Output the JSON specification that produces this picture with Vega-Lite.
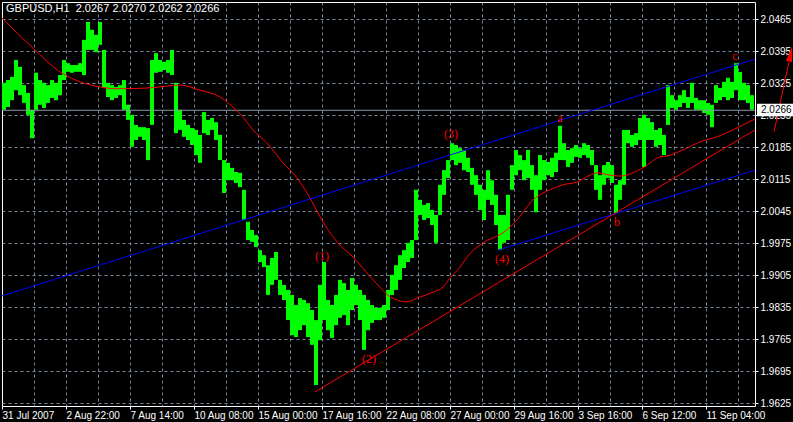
{
"$schema": "https://vega.github.io/schema/vega-lite/v6.json",
"width": 753, "height": 404,
"autosize": {"type": "none"},
"padding": {"left": 2, "top": 2, "right": 38, "bottom": 16},
"background": "#000000",
"config": {
"view": {"stroke": "#ffffff", "strokeWidth": 1, "fill": "#000000"},
"axis": {"labelOverlap": false, "labelFlush": false, "labelBound": false, "labelColor": "#ffffff", "labelFont": "Liberation Sans", "labelFontSize": 10, "tickColor": "#ffffff", "tickSize": 3, "gridColor": "#778899", "gridDash": [3, 3], "domain": false, "title": null},
"axisY": {"labelOverlap": false, "labelPadding": 2},
"axisX": {"labelOverlap": false, "labelPadding": 1}
},
"datasets": {
"bars": [
{"x":4,"h":2.0326,"l":2.0267},{"x":8,"h":2.0332,"l":2.0273},{"x":12,"h":2.0339,"l":2.0288},{"x":16,"h":2.0376,"l":2.0310},{"x":20,"h":2.0361,"l":2.0299},{"x":24,"h":2.0321,"l":2.0282},{"x":28,"h":2.0304,"l":2.0256},{"x":32,"h":2.0267,"l":2.0205},{"x":36,"h":2.0348,"l":2.0267},{"x":40,"h":2.0332,"l":2.0278},{"x":44,"h":2.0326,"l":2.0271},{"x":48,"h":2.0321,"l":2.0282},{"x":52,"h":2.0332,"l":2.0293},{"x":56,"h":2.0326,"l":2.0288},{"x":60,"h":2.0343,"l":2.0299},{"x":64,"h":2.0376,"l":2.0332},{"x":68,"h":2.0369,"l":2.0350},{"x":72,"h":2.0365,"l":2.0348},{"x":76,"h":2.0365,"l":2.0350},{"x":80,"h":2.0369,"l":2.0350},{"x":84,"h":2.0420,"l":2.0343},{"x":88,"h":2.0459,"l":2.0398},{"x":92,"h":2.0442,"l":2.0398},{"x":96,"h":2.0431,"l":2.0393},{"x":100,"h":2.0459,"l":2.0409},{"x":104,"h":2.0398,"l":2.0315},{"x":108,"h":2.0326,"l":2.0295},{"x":112,"h":2.0321,"l":2.0288},{"x":116,"h":2.0317,"l":2.0293},{"x":120,"h":2.0321,"l":2.0299},{"x":124,"h":2.0332,"l":2.0267},{"x":128,"h":2.0278,"l":2.0245},{"x":132,"h":2.0256,"l":2.0186},{"x":136,"h":2.0234,"l":2.0201},{"x":140,"h":2.0229,"l":2.0208},{"x":144,"h":2.0229,"l":2.0201},{"x":148,"h":2.0227,"l":2.0157},{"x":152,"h":2.0376,"l":2.0234},{"x":156,"h":2.0391,"l":2.0348},{"x":160,"h":2.0376,"l":2.0350},{"x":164,"h":2.0372,"l":2.0354},{"x":168,"h":2.0376,"l":2.0348},{"x":172,"h":2.0398,"l":2.0343},{"x":176,"h":2.0326,"l":2.0216},{"x":180,"h":2.0267,"l":2.0223},{"x":184,"h":2.0245,"l":2.0208},{"x":188,"h":2.0234,"l":2.0201},{"x":192,"h":2.0227,"l":2.0190},{"x":196,"h":2.0223,"l":2.0168},{"x":200,"h":2.0212,"l":2.0151},{"x":204,"h":2.0262,"l":2.0216},{"x":208,"h":2.0245,"l":2.0212},{"x":212,"h":2.0249,"l":2.0223},{"x":216,"h":2.0240,"l":2.0201},{"x":220,"h":2.0212,"l":2.0157},{"x":224,"h":2.0157,"l":2.0085},{"x":228,"h":2.0151,"l":2.0113},{"x":232,"h":2.0140,"l":2.0113},{"x":236,"h":2.0131,"l":2.0107},{"x":240,"h":2.0129,"l":2.0098},{"x":244,"h":2.0092,"l":2.0026},{"x":248,"h":2.0022,"l":1.9982},{"x":252,"h":2.0004,"l":1.9978},{"x":256,"h":1.9993,"l":1.9967},{"x":260,"h":1.9960,"l":1.9934},{"x":264,"h":1.9949,"l":1.9923},{"x":268,"h":1.9927,"l":1.9862},{"x":272,"h":1.9943,"l":1.9884},{"x":276,"h":1.9956,"l":1.9895},{"x":280,"h":1.9895,"l":1.9862},{"x":284,"h":1.9884,"l":1.9851},{"x":288,"h":1.9873,"l":1.9807},{"x":292,"h":1.9862,"l":1.9774},{"x":296,"h":1.9840,"l":1.9770},{"x":300,"h":1.9855,"l":1.9785},{"x":304,"h":1.9851,"l":1.9796},{"x":308,"h":1.9844,"l":1.9770},{"x":312,"h":1.9829,"l":1.9753},{"x":316,"h":1.9807,"l":1.9665},{"x":320,"h":1.9884,"l":1.9763},{"x":324,"h":1.9934,"l":1.9807},{"x":328,"h":1.9851,"l":1.9785},{"x":332,"h":1.9840,"l":1.9768},{"x":336,"h":1.9862,"l":1.9796},{"x":340,"h":1.9895,"l":1.9812},{"x":344,"h":1.9888,"l":1.9818},{"x":348,"h":1.9873,"l":1.9796},{"x":352,"h":1.9899,"l":1.9829},{"x":356,"h":1.9884,"l":1.9840},{"x":360,"h":1.9873,"l":1.9807},{"x":364,"h":1.9862,"l":1.9742},{"x":368,"h":1.9851,"l":1.9785},{"x":372,"h":1.9840,"l":1.9801},{"x":376,"h":1.9834,"l":1.9807},{"x":380,"h":1.9834,"l":1.9807},{"x":384,"h":1.9840,"l":1.9812},{"x":388,"h":1.9873,"l":1.9829},{"x":392,"h":1.9906,"l":1.9862},{"x":396,"h":1.9927,"l":1.9873},{"x":400,"h":1.9949,"l":1.9895},{"x":404,"h":1.9960,"l":1.9921},{"x":408,"h":1.9976,"l":1.9934},{"x":412,"h":1.9982,"l":1.9943},{"x":416,"h":2.0092,"l":1.9982},{"x":420,"h":2.0070,"l":2.0037},{"x":424,"h":2.0059,"l":2.0026},{"x":428,"h":2.0063,"l":2.0030},{"x":432,"h":2.0048,"l":2.0015},{"x":436,"h":2.0037,"l":1.9976},{"x":440,"h":2.0103,"l":2.0037},{"x":444,"h":2.0135,"l":2.0081},{"x":448,"h":2.0157,"l":2.0118},{"x":452,"h":2.0194,"l":2.0157},{"x":456,"h":2.0190,"l":2.0146},{"x":460,"h":2.0183,"l":2.0151},{"x":464,"h":2.0179,"l":2.0135},{"x":468,"h":2.0162,"l":2.0131},{"x":472,"h":2.0140,"l":2.0103},{"x":476,"h":2.0124,"l":2.0081},{"x":480,"h":2.0103,"l":2.0048},{"x":484,"h":2.0092,"l":2.0026},{"x":488,"h":2.0135,"l":2.0070},{"x":492,"h":2.0113,"l":2.0059},{"x":496,"h":2.0081,"l":2.0015},{"x":500,"h":2.0037,"l":1.9960},{"x":504,"h":2.0037,"l":1.9976},{"x":508,"h":2.0081,"l":1.9982},{"x":512,"h":2.0146,"l":2.0092},{"x":516,"h":2.0179,"l":2.0124},{"x":520,"h":2.0168,"l":2.0135},{"x":524,"h":2.0157,"l":2.0113},{"x":528,"h":2.0179,"l":2.0118},{"x":532,"h":2.0146,"l":2.0092},{"x":536,"h":2.0124,"l":2.0043},{"x":540,"h":2.0168,"l":2.0092},{"x":544,"h":2.0157,"l":2.0113},{"x":548,"h":2.0153,"l":2.0124},{"x":552,"h":2.0162,"l":2.0120},{"x":556,"h":2.0173,"l":2.0131},{"x":560,"h":2.0232,"l":2.0157},{"x":564,"h":2.0194,"l":2.0157},{"x":568,"h":2.0179,"l":2.0142},{"x":572,"h":2.0183,"l":2.0151},{"x":576,"h":2.0190,"l":2.0164},{"x":580,"h":2.0183,"l":2.0162},{"x":584,"h":2.0194,"l":2.0168},{"x":588,"h":2.0190,"l":2.0162},{"x":592,"h":2.0179,"l":2.0146},{"x":596,"h":2.0146,"l":2.0092},{"x":600,"h":2.0124,"l":2.0070},{"x":604,"h":2.0146,"l":2.0103},{"x":608,"h":2.0153,"l":2.0118},{"x":612,"h":2.0146,"l":2.0107},{"x":616,"h":2.0103,"l":2.0041},{"x":620,"h":2.0113,"l":2.0070},{"x":624,"h":2.0223,"l":2.0103},{"x":628,"h":2.0223,"l":2.0194},{"x":632,"h":2.0212,"l":2.0186},{"x":636,"h":2.0216,"l":2.0190},{"x":640,"h":2.0249,"l":2.0201},{"x":644,"h":2.0256,"l":2.0142},{"x":648,"h":2.0249,"l":2.0201},{"x":652,"h":2.0240,"l":2.0201},{"x":656,"h":2.0223,"l":2.0186},{"x":660,"h":2.0227,"l":2.0190},{"x":664,"h":2.0212,"l":2.0168},{"x":668,"h":2.0321,"l":2.0234},{"x":672,"h":2.0299,"l":2.0271},{"x":676,"h":2.0288,"l":2.0267},{"x":680,"h":2.0299,"l":2.0273},{"x":684,"h":2.0310,"l":2.0282},{"x":688,"h":2.0295,"l":2.0271},{"x":692,"h":2.0326,"l":2.0282},{"x":696,"h":2.0293,"l":2.0267},{"x":700,"h":2.0288,"l":2.0267},{"x":704,"h":2.0288,"l":2.0260},{"x":708,"h":2.0282,"l":2.0256},{"x":712,"h":2.0278,"l":2.0229},{"x":716,"h":2.0321,"l":2.0282},{"x":720,"h":2.0315,"l":2.0288},{"x":724,"h":2.0328,"l":2.0295},{"x":728,"h":2.0337,"l":2.0288},{"x":732,"h":2.0328,"l":2.0293},{"x":736,"h":2.0369,"l":2.0310},{"x":740,"h":2.0350,"l":2.0288},{"x":744,"h":2.0326,"l":2.0288},{"x":748,"h":2.0321,"l":2.0282},{"x":752,"h":2.0299,"l":2.0267}
],
"ma": [
{"x":2,"p":2.0468},{"x":33,"p":2.0402},{"x":60,"p":2.0350},{"x":83,"p":2.0326},{"x":100,"p":2.0317},{"x":117,"p":2.0313},{"x":150,"p":2.0315},{"x":180,"p":2.0321},{"x":200,"p":2.0310},{"x":220,"p":2.0295},{"x":233,"p":2.0273},{"x":243,"p":2.0251},{"x":253,"p":2.0223},{"x":267,"p":2.0194},{"x":283,"p":2.0151},{"x":297,"p":2.0118},{"x":310,"p":2.0074},{"x":320,"p":2.0033},{"x":337,"p":1.9978},{"x":353,"p":1.9945},{"x":367,"p":1.9910},{"x":380,"p":1.9879},{"x":390,"p":1.9858},{"x":407,"p":1.9847},{"x":417,"p":1.9855},{"x":433,"p":1.9868},{"x":443,"p":1.9879},{"x":450,"p":1.9899},{"x":460,"p":1.9923},{"x":467,"p":1.9945},{"x":483,"p":1.9976},{"x":503,"p":1.9998},{"x":517,"p":2.0026},{"x":533,"p":2.0070},{"x":550,"p":2.0092},{"x":563,"p":2.0103},{"x":577,"p":2.0109},{"x":590,"p":2.0124},{"x":597,"p":2.0129},{"x":610,"p":2.0124},{"x":620,"p":2.0122},{"x":643,"p":2.0140},{"x":660,"p":2.0164},{"x":667,"p":2.0166},{"x":683,"p":2.0179},{"x":700,"p":2.0197},{"x":717,"p":2.0208},{"x":733,"p":2.0223},{"x":755,"p":2.0247}
],
"lines": [
{"s":"upper channel","x":2,"p":1.9860},{"s":"upper channel","x":755,"p":2.0378},
{"s":"lower channel","x":498,"p":1.9960},{"s":"lower channel","x":755,"p":2.0135},
{"s":"trend","x":315,"p":1.9650},{"s":"trend","x":755,"p":2.0223}
],
"labels": [
{"t":"(1)","x":322,"p":1.9947},{"t":"(2)","x":369,"p":1.9722},{"t":"(3)","x":451,"p":2.0214},{"t":"(4)","x":502,"p":1.9941},{"t":"a","x":560,"p":2.0249},{"t":"b","x":617,"p":2.0022},{"t":"c","x":735,"p":2.0385}
],
"heading": [{"t":"GBPUSD,H1\u00a0 2.0267 2.0270 2.0262 2.0266","x":6,"p":2.0480}],
"arrow": [{"x":774,"x2":789,"p":2.0219,"p2":2.0372}],
"head": [{"x":790.5,"p":2.0389}],
"box": [{"x":757,"x2":793,"p":2.0280,"p2":2.0253,"t":"2.0266","tx":761,"tp":2.0266}],
"bid": [{"p":2.0266}]
},
"layer": [
{
"data": {"name": "bars"},
"mark": {"type": "rule", "color": "#00ff00", "strokeWidth": 4},
"encoding": {
"x": {"field": "x", "type": "quantitative", "title": null, "scale": {"domain": [2, 755], "nice": false, "zero": false},
"axis": {"values": [2,34,66,98,130,162,194,226,258,290,322,354,386,418,450,482,514,546,578,610,642,674,706,738], "tickCount": 40,
"labelExpr": "(datum.value-2)%64==0 ? ['31 Jul 2007','2 Aug 22:00','7 Aug 14:00','10 Aug 08:00','15 Aug 00:00','17 Aug 16:00','22 Aug 08:00','27 Aug 00:00','29 Aug 16:00','3 Sep 16:00','6 Sep 12:00','11 Sep 04:00'][(datum.value-2)/64] : ''",
"labelAlign": "left", "labelBaseline": "top", "labelPadding": 1, "labelOverlap": false,
"tickOpacity": {"condition": {"test": "(datum.value-2)%64==0", "value": 1}, "value": 0},
"grid": true, "gridOpacity": {"condition": {"test": "datum.value==2", "value": 0}, "value": 1}}},
"y": {"field": "h", "type": "quantitative", "title": null, "scale": {"domain": [1.96191, 2.05028], "nice": false, "zero": false},
"axis": {"orient": "right", "values": [1.9625,1.9695,1.9765,1.9835,1.9905,1.9975,2.0045,2.0115,2.0185,2.0255,2.0325,2.0395,2.0465], "tickCount": 20, "format": ".4f", "labelOverlap": false, "labelPadding": 2, "grid": true}},
"y2": {"field": "l"}
}
},
{
"data": {"name": "bid"},
"mark": {"type": "rule", "color": "#8899aa", "strokeWidth": 1},
"encoding": {"y": {"field": "p", "type": "quantitative", "title": null}}
},
{
"data": {"name": "ma"},
"mark": {"type": "line", "color": "#ff0000", "strokeWidth": 1, "interpolate": "monotone"},
"encoding": {
"x": {"field": "x", "type": "quantitative", "title": null},
"y": {"field": "p", "type": "quantitative", "title": null}
}
},
{
"data": {"name": "lines"},
"mark": {"type": "line", "strokeWidth": 1},
"encoding": {
"x": {"field": "x", "type": "quantitative", "title": null},
"y": {"field": "p", "type": "quantitative", "title": null},
"color": {"field": "s", "type": "nominal", "scale": {"domain": ["upper channel", "lower channel", "trend"], "range": ["#0000ff", "#0000ff", "#ff0000"]}, "legend": null}
}
},
{
"data": {"name": "labels"},
"mark": {"type": "text", "color": "#ff0000", "font": "Liberation Serif", "fontSize": 12, "align": "center", "baseline": "middle"},
"encoding": {
"x": {"field": "x", "type": "quantitative", "title": null},
"y": {"field": "p", "type": "quantitative", "title": null},
"text": {"field": "t"}
}
},
{
"data": {"name": "heading"},
"mark": {"type": "text", "color": "#ffffff", "font": "Liberation Sans", "fontSize": 11, "align": "left", "baseline": "alphabetic"},
"encoding": {
"x": {"field": "x", "type": "quantitative", "title": null},
"y": {"field": "p", "type": "quantitative", "title": null},
"text": {"field": "t"}
}
},
{
"data": {"name": "arrow"},
"mark": {"type": "rule", "color": "#ff0000", "strokeWidth": 1, "clip": false},
"encoding": {
"x": {"field": "x", "type": "quantitative", "title": null},
"x2": {"field": "x2"},
"y": {"field": "p", "type": "quantitative", "title": null},
"y2": {"field": "p2"}
}
},
{
"data": {"name": "head"},
"mark": {"type": "point", "filled": true, "color": "#ff0000", "opacity": 1, "shape": "M0,-1L0.42,1L-0.42,1Z", "size": 225, "angle": 12, "clip": false},
"encoding": {
"x": {"field": "x", "type": "quantitative", "title": null},
"y": {"field": "p", "type": "quantitative", "title": null}
}
},
{
"data": {"name": "box"},
"mark": {"type": "rect", "color": "#ffffff", "clip": false},
"encoding": {
"x": {"field": "x", "type": "quantitative", "title": null},
"x2": {"field": "x2"},
"y": {"field": "p", "type": "quantitative", "title": null},
"y2": {"field": "p2"}
}
},
{
"data": {"name": "box"},
"mark": {"type": "text", "color": "#000000", "font": "Liberation Sans", "fontSize": 10, "align": "left", "baseline": "middle", "clip": false},
"encoding": {
"x": {"field": "tx", "type": "quantitative", "title": null},
"y": {"field": "tp", "type": "quantitative", "title": null},
"text": {"field": "t"}
}
}
]
}
